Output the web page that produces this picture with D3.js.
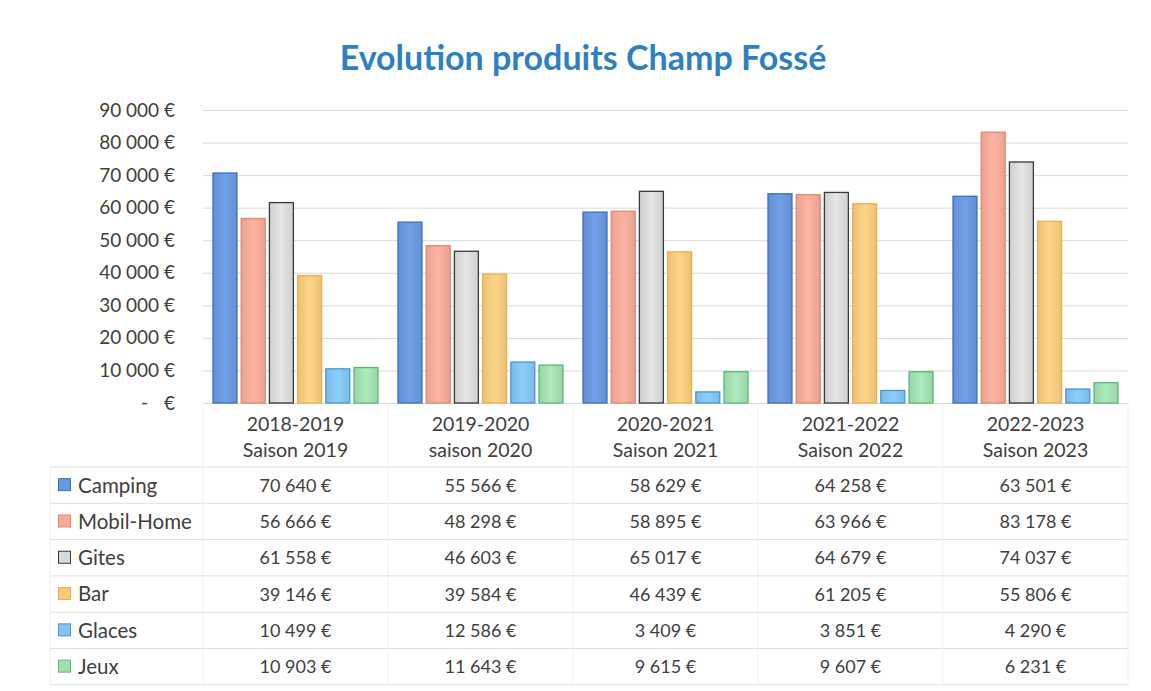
<!DOCTYPE html>
<html>
<head>
<meta charset="utf-8">
<script src="https://cdn.jsdelivr.net/npm/d3@7"></script>
<style>
  body { margin: 0; background: #fff; }
  svg text { font-family: Lato, "Open Sans", sans-serif; fill: #404040; }
</style>
</head>
<body>
<div id="chart"></div>
<script>
// Data
const categories = ["2018-2019", "2019-2020", "2020-2021", "2021-2022", "2022-2023"];
const seasons = ["Saison 2019", "saison 2020", "Saison 2021", "Saison 2022", "Saison 2023"];
const seriesNames = ["Camping", "Mobil-Home", "Gites", "Bar", "Glaces", "Jeux"];
const camping = [70640, 55566, 58629, 64258, 63501];
const mobilHome = [56666, 48298, 58895, 63966, 83178];
const gites = [61558, 46603, 65017, 64679, 74037];
const bar = [39146, 39584, 46439, 61205, 55806];
const glaces = [10499, 12586, 3409, 3851, 4290];
const jeux = [10903, 11643, 9615, 9607, 6231];
const yTicks = [0, 10000, 20000, 30000, 40000, 50000, 60000, 70000, 80000, 90000];

const seriesValues = [camping, mobilHome, gites, bar, glaces, jeux];
const fills = ["#6b98dc", "#f4ab9a", "#dadada", "#f6cb80", "#84c4ef", "#a3dfb1"];
const strokes = ["#3b6fc4", "#e2876f", "#3a3a3a", "#ebb04e", "#4896d6", "#58ba76"];

const width = 1151, height = 691;
const plotLeft = 203, plotRight = 1128, plotTop = 110, plotBottom = 403;
const tableLeft = 50, headerBottom = 467, rowH = 36.3;

const svg = d3.select("#chart").append("svg")
  .attr("width", width)
  .attr("height", height);

svg.append("rect").attr("width", width).attr("height", height).attr("fill", "#fff");

// gradients to mimic the bevel of the bars
const defs = svg.append("defs");
fills.forEach(function(c, i) {
  const g = defs.append("linearGradient").attr("id", "grad" + i)
    .attr("x1", "0%").attr("x2", "100%").attr("y1", "0%").attr("y2", "0%");
  g.append("stop").attr("offset", "0%").attr("stop-color", d3.color(c).darker(0.15));
  g.append("stop").attr("offset", "50%").attr("stop-color", d3.color(c).brighter(0.15));
  g.append("stop").attr("offset", "100%").attr("stop-color", d3.color(c).darker(0.15));
});

// Title
svg.append("text")
  .attr("x", 583)
  .attr("y", 70)
  .attr("text-anchor", "middle")
  .style("font-size", "34px")
  .style("font-weight", "bold")
  .style("fill", "#2f7fc3")
  .text("Evolution produits Champ Fossé");

// Scales
const x0 = d3.scaleBand().domain(categories).range([plotLeft, plotRight]).padding(0);
const x1 = d3.scaleBand().domain(seriesNames).range([10, x0.bandwidth() - 10]).paddingInner(0.15);
const y = d3.scaleLinear().domain([0, 90000]).range([plotBottom, plotTop]);

// Gridlines
svg.append("g")
  .selectAll("line")
  .data(yTicks)
  .enter()
  .append("line")
  .attr("x1", plotLeft)
  .attr("x2", plotRight)
  .attr("y1", d => y(d) + 0.5)
  .attr("y2", d => y(d) + 0.5)
  .attr("stroke", "#d9d9d9")
  .attr("stroke-width", 1);

// Y axis labels
const fmt = d3.formatLocale({ decimal: ",", thousands: " ", grouping: [3], currency: ["", " €"] }).format(",");
const yAxis = svg.append("g")
  .attr("transform", "translate(175,0)")
  .call(d3.axisLeft(y).tickValues(yTicks).tickSize(0).tickPadding(0)
    .tickFormat(d => d === 0 ? "€" : fmt(d) + " €"));
yAxis.select(".domain").remove();
yAxis.selectAll("text")
  .style("font-size", "19px")
  .style("font-family", "Lato, 'Open Sans', sans-serif")
  .attr("fill", "#404040");
svg.append("text")
  .attr("x", 148)
  .attr("y", y(0))
  .attr("dy", "0.32em")
  .attr("text-anchor", "end")
  .style("font-size", "19px")
  .text("-");

// Bars
const groups = svg.append("g")
  .selectAll("g")
  .data(categories)
  .enter()
  .append("g")
  .attr("transform", d => "translate(" + x0(d) + ",0)");

groups.selectAll("rect")
  .data((c, ci) => seriesNames.map((s, si) => ({ series: s, si: si, value: seriesValues[si][ci] })))
  .enter()
  .append("rect")
  .attr("x", d => x1(d.series))
  .attr("y", d => y(d.value))
  .attr("width", x1.bandwidth())
  .attr("height", d => y(0) - y(d.value))
  .attr("fill", d => "url(#grad" + d.si + ")")
  .attr("stroke", d => strokes[d.si])
  .attr("stroke-width", 1.3);

// Data table
const table = svg.append("g");
const lineColor = "#dedede";

// horizontal lines
const rowLines = d3.range(seriesNames.length + 1).map(i => headerBottom + i * rowH);
table.selectAll(".hline")
  .data(rowLines)
  .enter()
  .append("line")
  .attr("x1", tableLeft)
  .attr("x2", plotRight)
  .attr("y1", d => d)
  .attr("y2", d => d)
  .attr("stroke", lineColor);

// vertical lines
const vx = categories.map(c => x0(c)).concat([plotRight]);
table.selectAll(".vline")
  .data(vx)
  .enter()
  .append("line")
  .attr("x1", d => d)
  .attr("x2", d => d)
  .attr("y1", plotBottom)
  .attr("y2", rowLines[rowLines.length - 1])
  .attr("stroke", "#f0f0f0");
table.append("line")
  .attr("x1", tableLeft).attr("x2", tableLeft)
  .attr("y1", headerBottom).attr("y2", rowLines[rowLines.length - 1])
  .attr("stroke", "#f0f0f0");

// header labels
categories.forEach(function(c, i) {
  const cx = x0(c) + x0.bandwidth() / 2;
  table.append("text")
    .attr("x", cx).attr("y", 431)
    .attr("text-anchor", "middle")
    .style("font-size", "19.5px")
    .text(c);
  table.append("text")
    .attr("x", cx).attr("y", 457)
    .attr("text-anchor", "middle")
    .style("font-size", "19.5px")
    .text(seasons[i]);
});

// rows
seriesNames.forEach(function(s, si) {
  const cy = headerBottom + si * rowH + rowH / 2;
  table.append("rect")
    .attr("x", 58.5).attr("y", cy - 6.5)
    .attr("width", 12).attr("height", 12)
    .attr("fill", fills[si])
    .attr("stroke", strokes[si]);
  table.append("text")
    .attr("x", 78).attr("y", cy)
    .attr("dy", "0.36em")
    .style("font-size", "20.5px")
    .text(s);
  categories.forEach(function(c, ci) {
    table.append("text")
      .attr("x", x0(c) + x0.bandwidth() / 2)
      .attr("y", cy)
      .attr("dy", "0.36em")
      .attr("text-anchor", "middle")
      .style("font-size", "18px")
      .text(fmt(seriesValues[si][ci]) + " €");
  });
});
</script>
</body>
</html>
